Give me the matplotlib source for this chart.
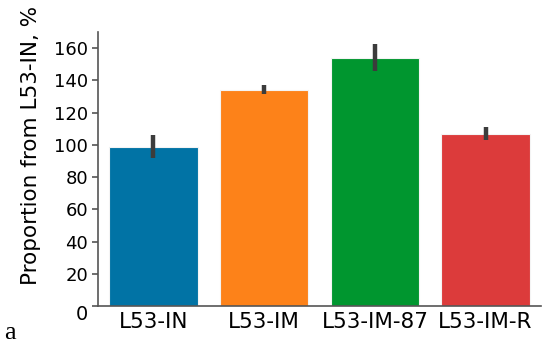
import matplotlib
matplotlib.use("Agg")
import matplotlib.pyplot as plt
import matplotlib.transforms as mtransforms
import numpy as np

# data
groups = ["L53-IN", "L53-IM", "L53-IM-87", "L53-IM-R"]
means = [98.8, 134.3, 154.0, 107.0]
err_low = [91.8, 131.6, 146.0, 103.2]
err_high = [106.3, 137.3, 162.8, 111.0]
colors = ["#0173a5", "#fd8219", "#00962f", "#dc3b3b"]

fig = plt.figure(figsize=(5.5, 3.47), dpi=100)
ax = fig.add_axes([98/550, 1-306/347, 443/550, 274/347])

x = np.arange(len(groups))
ax.bar(x, means, width=0.8, color=colors, edgecolor="#f4f4f4", linewidth=0.8, zorder=2)
for xi, lo, hi in zip(x, err_low, err_high):
    ax.plot([xi, xi], [lo, hi], color="#3c3c3c", lw=3.2, solid_capstyle="butt", zorder=3)

ax.set_xlim(-0.5, 3.5)
ax.set_ylim(0, 170)
ax.set_yticks(np.arange(0, 161, 20))
ax.set_xticks(x)
ax.set_xticklabels(groups)

for s in ["top", "right"]:
    ax.spines[s].set_visible(False)
for s in ["left", "bottom"]:
    ax.spines[s].set_color("#555555")
    ax.spines[s].set_linewidth(1.2)

ax.tick_params(axis="y", length=4, width=1.2, color="#555555", labelsize=13, pad=3)
ax.tick_params(axis="x", length=0, labelsize=15.5, pad=4)

# the zero label sits a bit lower in the reference
zero = ax.get_yticklabels()[0]
zero.set_fontsize(14)
zero.set_transform(zero.get_transform() + mtransforms.ScaledTranslation(0, -7/100, fig.dpi_scale_trans))

ax.set_ylabel("Proportion from L53-IN, %", fontsize=15.5)
ax.yaxis.set_label_coords(-0.128, 0.585)

fig.text(4/550, 1-333/347, "a", family="Liberation Serif", fontsize=19, va="center", ha="left")

fig.savefig("out.png", dpi=100)
